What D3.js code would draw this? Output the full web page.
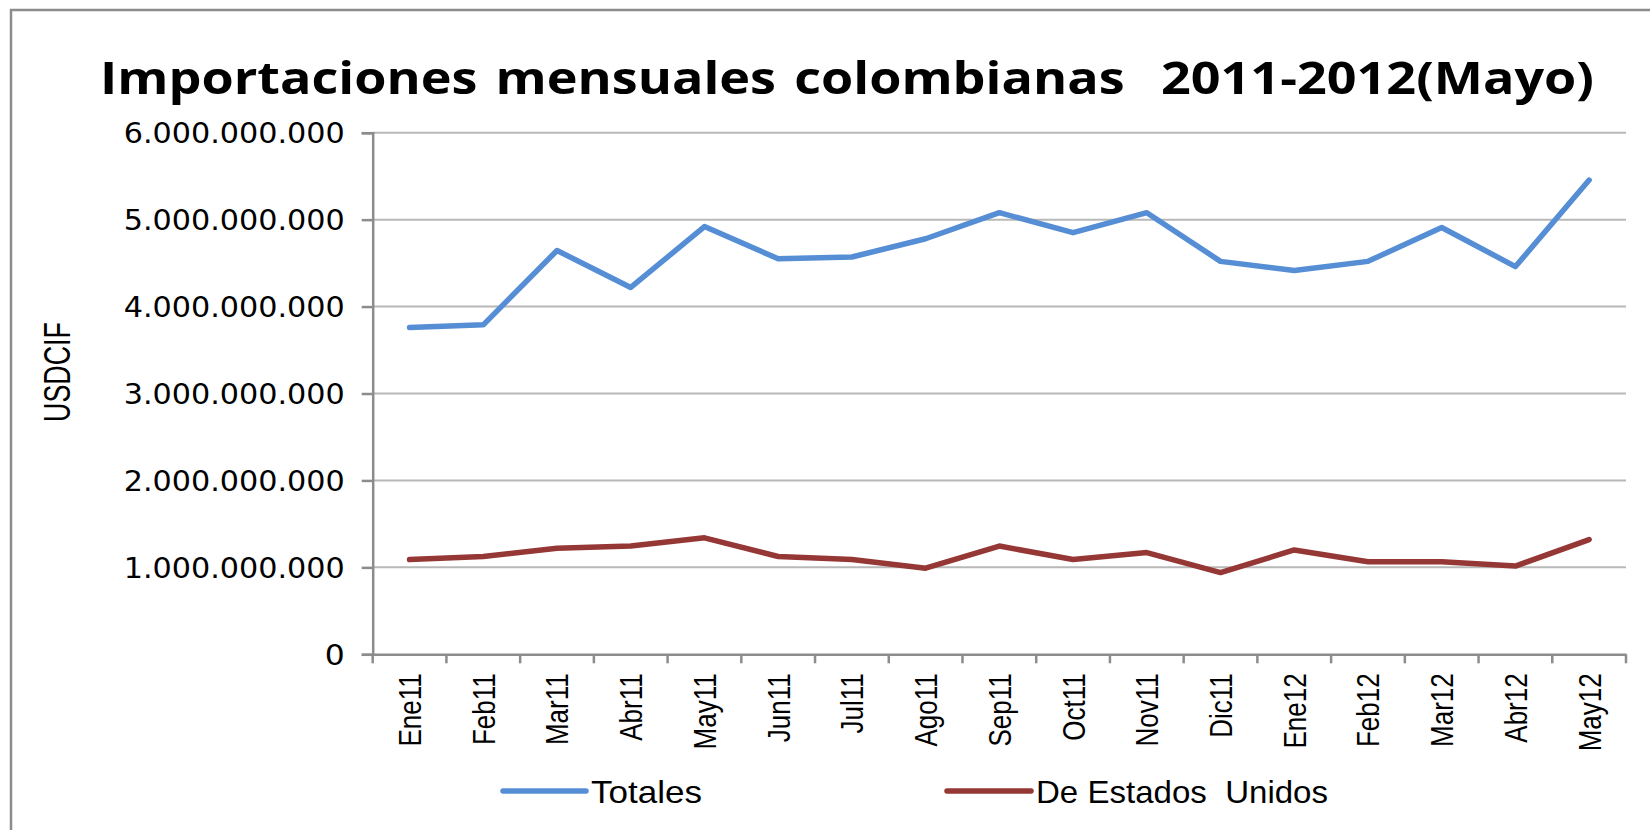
<!DOCTYPE html>
<html>
<head>
<meta charset="utf-8">
<script src="https://cdn.jsdelivr.net/npm/d3@7"></script>
<style>
  html, body { margin: 0; padding: 0; background: #fff; }
  svg { display: block; }
  text { white-space: pre; }
</style>
</head>
<body>
<svg id="chart" width="1650" height="830"></svg>
<script>
const categories = ["Ene11","Feb11","Mar11","Abr11","May11","Jun11","Jul11","Ago11","Sep11","Oct11","Nov11","Dic11","Ene12","Feb12","Mar12","Abr12","May12"];
const totales = [3760000000,3790000000,4645000000,4220000000,4920000000,4550000000,4570000000,4780000000,5080000000,4850000000,5080000000,4520000000,4415000000,4520000000,4910000000,4460000000,5455000000];
const estadosUnidos = [1090000000,1125000000,1220000000,1245000000,1340000000,1125000000,1090000000,990000000,1245000000,1090000000,1170000000,940000000,1200000000,1065000000,1065000000,1015000000,1320000000];
const yTicks = [0,1000000000,2000000000,3000000000,4000000000,5000000000,6000000000];
const seriesNames = ["Totales","De Estados  Unidos"];
const titleText = "Importaciones mensuales colombianas  2011-2012(Mayo)";
const yTitle = "USDCIF";

(function () {
const svg = d3.select("#chart");
const pL = 372.7, pR = 1626, pT = 132.7, pB = 654.3;

// outer border (top and left visible)
svg.append("rect").attr("x", 11).attr("y", 10).attr("width", 1700).attr("height", 900)
  .attr("fill", "none").attr("stroke", "#8c8c8c").attr("stroke-width", 2.5);

const x = d3.scaleBand().domain(categories).range([pL, pR]);
const y = d3.scaleLinear().domain([0, 6000000000]).range([pB, pT]);

const fmt = v => d3.format(",")(v).replace(/,/g, ".");

// gridlines
svg.append("g").selectAll("line").data(yTicks.filter(d => d > 0)).join("line")
  .attr("x1", pL).attr("x2", pR).attr("y1", d => y(d)).attr("y2", d => y(d))
  .attr("stroke", "#b8b8b8").attr("stroke-width", 2);

// y axis
const yAxis = svg.append("g").attr("transform", `translate(${pL},0)`)
  .call(d3.axisLeft(y).tickValues(yTicks).tickSize(11).tickPadding(0).tickFormat(fmt));
yAxis.select(".domain").attr("stroke", "#8c8c8c").attr("stroke-width", 2.5);
yAxis.selectAll(".tick line").attr("stroke", "#8c8c8c").attr("stroke-width", 2.5);
yAxis.selectAll(".tick text").attr("x", -28).attr("dy", "0.36em")
  .attr("font-family", "DejaVu Sans").attr("font-size", 28).attr("fill", "#000")
  .attr("textLength", d => d === 0 ? 20 : 221).attr("lengthAdjust", "spacingAndGlyphs");

// x axis
const xAxis = svg.append("g").attr("transform", `translate(0,${pB})`)
  .call(d3.axisBottom(x).tickSize(0).tickPadding(0));
xAxis.select(".domain").attr("stroke", "#8c8c8c").attr("stroke-width", 2.5);
xAxis.selectAll(".tick text")
  .attr("transform", "rotate(-90) scale(1,1.22)")
  .attr("x", -19).attr("y", 0).attr("dy", "0.36em")
  .attr("text-anchor", "end")
  .attr("font-family", "Liberation Sans, Arial").attr("font-size", 26).attr("fill", "#000");
// category boundary tick marks
const boundaries = categories.map(c => x(c)).concat([pR]);
svg.append("g").selectAll("line").data(boundaries).join("line")
  .attr("x1", d => d).attr("x2", d => d).attr("y1", pB).attr("y2", pB + 9)
  .attr("stroke", "#8c8c8c").attr("stroke-width", 2.5);

// lines
const line = d3.line().x((d, i) => x(categories[i]) + x.bandwidth() / 2).y(d => y(d));
svg.append("path").datum(totales).attr("d", line)
  .attr("fill", "none").attr("stroke", "#558ed5").attr("stroke-width", 5.5)
  .attr("stroke-linecap", "round").attr("stroke-linejoin", "round");
svg.append("path").datum(estadosUnidos).attr("d", line)
  .attr("fill", "none").attr("stroke", "#953735").attr("stroke-width", 5.5)
  .attr("stroke-linecap", "round").attr("stroke-linejoin", "round");

// title
svg.append("text").attr("x", 100).attr("y", 94)
  .attr("font-family", "Open Sans, Noto Sans").attr("font-weight", "bold").attr("font-size", 45)
  .attr("word-spacing", 4)
  .attr("textLength", 1494).attr("lengthAdjust", "spacingAndGlyphs")
  .text(titleText);

// y title
svg.append("text").attr("transform", "translate(70,372) rotate(-90)")
  .attr("text-anchor", "middle")
  .attr("font-family", "Liberation Sans Narrow, Liberation Sans").attr("font-size", 36)
  .attr("textLength", 100).attr("lengthAdjust", "spacingAndGlyphs")
  .text(yTitle);

// legend
const legend = [
  {name: seriesNames[0], color: "#558ed5", x1: 503, x2: 586, tx: 591, tw: 111},
  {name: seriesNames[1], color: "#953735", x1: 947, x2: 1031, tx: 1036, tw: 292}
];
legend.forEach(l => {
  svg.append("line").attr("x1", l.x1).attr("x2", l.x2).attr("y1", 791).attr("y2", 791)
    .attr("stroke", l.color).attr("stroke-width", 5.5).attr("stroke-linecap", "round");
  svg.append("text").attr("x", l.tx).attr("y", 803)
    .attr("font-family", "Liberation Sans Narrow, Liberation Sans").attr("font-size", 32)
    .attr("textLength", l.tw).attr("lengthAdjust", "spacingAndGlyphs")
    .text(l.name);
});
})();
</script>
</body>
</html>
